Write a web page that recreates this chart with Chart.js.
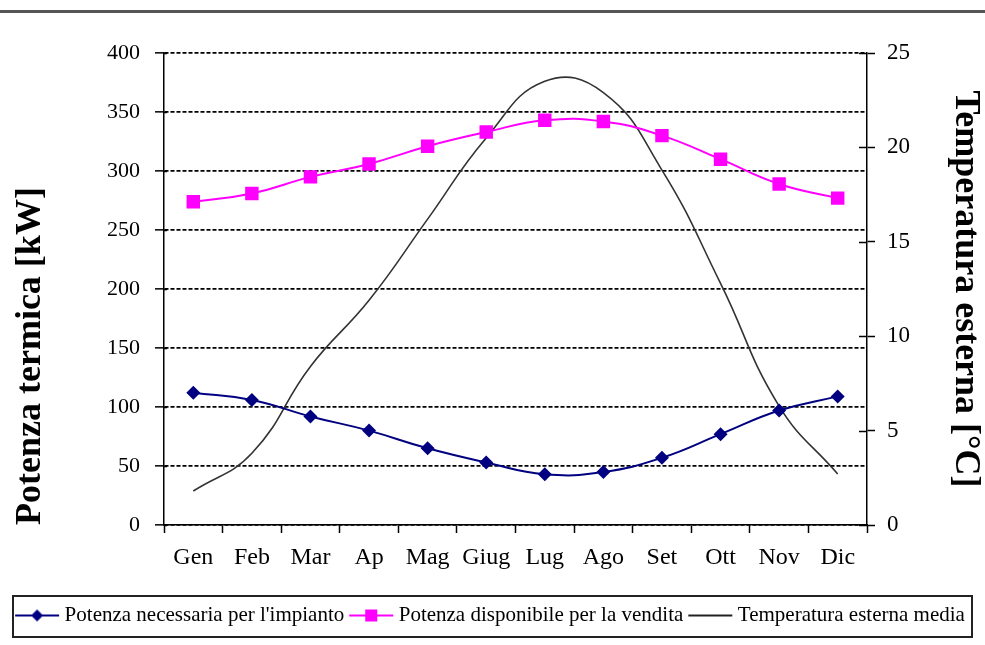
<!DOCTYPE html>
<html>
<head>
<meta charset="utf-8">
<script src="https://cdn.jsdelivr.net/npm/chart.js@4/dist/chart.umd.min.js"></script>
<style>
  html, body { margin: 0; padding: 0; background: #fff; }
  #wrap { position: relative; width: 985px; height: 645px; }
</style>
</head>
<body>
<div id="wrap"><canvas id="chart" width="985" height="645"></canvas></div>
<script>
// Monthly thermal power and mean outdoor temperature
const months = ['Gen', 'Feb', 'Mar', 'Ap', 'Mag', 'Giug', 'Lug', 'Ago', 'Set', 'Ott', 'Nov', 'Dic'];
const potenzaNecessaria = [112, 106, 92, 80, 65, 53, 43, 45, 57, 77, 97, 109];      // kW
const potenzaDisponibile = [274, 281, 295, 306, 321, 333, 343, 342, 330, 310, 289, 277]; // kW
const temperaturaMedia = [1.8, 3.8, 8.4, 11.9, 16.2, 20.5, 23.5, 22.9, 18.8, 12.8, 6.3, 2.7]; // °C

const leftTicks = { min: 0, max: 400, step: 50 };
const rightTicks = { min: 0, max: 25, step: 5 };

const serif = "'Liberation Serif', 'Times New Roman', serif";
const NAVY = '#000080';
const MAGENTA = '#ff00ff';
const DARK = '#333333';

// Small legend glyphs: a line segment with the series marker in the middle
function legendGlyph(color, marker) {
  const c = document.createElement('canvas');
  c.width = 46; c.height = 16;
  const g = c.getContext('2d');
  g.strokeStyle = color;
  g.lineWidth = 2;
  g.beginPath(); g.moveTo(1, 8); g.lineTo(45, 8); g.stroke();
  g.fillStyle = color;
  if (marker === 'diamond') {
    g.beginPath(); g.moveTo(23, 2); g.lineTo(29, 8); g.lineTo(23, 14); g.lineTo(17, 8); g.closePath(); g.fill();
  } else if (marker === 'square') {
    g.fillRect(17, 2, 12, 12);
  }
  return c;
}

const glyphs = [legendGlyph(NAVY, 'diamond'), legendGlyph(MAGENTA, 'square'), legendGlyph('#222', 'none')];

// Frame lines: top rule of the page and the box around the legend; inner halves of axis ticks
const decorations = {
  id: 'decorations',
  beforeDraw(chart) {
    const ctx = chart.ctx;
    ctx.save();
    ctx.fillStyle = '#555';
    ctx.fillRect(0, 10, chart.width, 3);
    ctx.restore();
  },
  afterDraw(chart) {
    const ctx = chart.ctx;
    const lg = chart.legend;
    ctx.save();
    ctx.strokeStyle = '#222';
    ctx.lineWidth = 2;
    ctx.strokeRect(13, lg.top + 1, chart.width - 26, lg.bottom - lg.top);
    // ticks crossing the axis lines into the plot
    const y1 = chart.scales.y1;
    const area = chart.chartArea;
    ctx.strokeStyle = '#000';
    ctx.lineWidth = 1.5;
    ctx.beginPath();
    y1.ticks.forEach(t => {
      const py = Math.round(y1.getPixelForValue(t.value)) + 0.5;
      ctx.moveTo(area.right - 8, py);
      ctx.lineTo(area.right, py);
    });
    const y = chart.scales.y;
    y.ticks.forEach(t => {
      const py = Math.round(y.getPixelForValue(t.value)) + 0.5;
      ctx.moveTo(area.left, py);
      ctx.lineTo(area.left + 3, py);
    });
    ctx.stroke();
    ctx.restore();
  }
};

new Chart(document.getElementById('chart'), {
  type: 'line',
  data: {
    labels: months,
    datasets: [
      {
        label: "Potenza necessaria per l'impianto",
        data: potenzaNecessaria,
        yAxisID: 'y',
        borderColor: NAVY,
        backgroundColor: NAVY,
        borderWidth: 2,
        pointStyle: 'rectRot',
        pointRadius: 7,
        pointBorderWidth: 0,
        tension: 0.45
      },
      {
        label: 'Potenza disponibile per la vendita',
        data: potenzaDisponibile,
        yAxisID: 'y',
        borderColor: MAGENTA,
        backgroundColor: MAGENTA,
        borderWidth: 2,
        pointStyle: 'rect',
        pointRadius: 9.5,
        pointBorderWidth: 0,
        tension: 0.45
      },
      {
        label: 'Temperatura esterna media',
        data: temperaturaMedia,
        yAxisID: 'y1',
        borderColor: DARK,
        backgroundColor: DARK,
        borderWidth: 1.6,
        pointRadius: 0,
        tension: 0.45
      }
    ]
  },
  options: {
    responsive: false,
    animation: false,
    devicePixelRatio: 1,
    layout: { padding: { top: 53, left: 0, right: 0, bottom: 9 } },
    plugins: {
      tooltip: { enabled: false },
      legend: {
        position: 'bottom',
        labels: {
          usePointStyle: true,
          pointStyleWidth: 34,
          color: '#000',
          font: { family: serif, size: 21 },
          padding: 10,
          generateLabels(chart) {
            return chart.data.datasets.map((ds, i) => ({
              text: ds.label,
              pointStyle: glyphs[i],
              fillStyle: ds.borderColor,
              strokeStyle: ds.borderColor,
              lineWidth: 0,
              fontColor: '#000',
              datasetIndex: i,
              hidden: false
            }));
          }
        }
      }
    },
    scales: {
      x: {
        type: 'category',
        offset: true,
        afterFit(s) { s.height = 70; },
        grid: {
          offset: true,
          drawOnChartArea: false,
          drawTicks: true,
          tickLength: 8,
          tickColor: '#000',
          tickWidth: 1.5
        },
        border: { color: '#000', width: 1.5 },
        ticks: {
          color: '#000',
          padding: 10,
          maxRotation: 0,
          font: { family: serif, size: 24 }
        }
      },
      y: {
        position: 'left',
        min: leftTicks.min,
        max: leftTicks.max,
        afterFit(s) { s.width = 164; },
        ticks: {
          stepSize: leftTicks.step,
          color: '#000',
          padding: 15,
          font: { family: serif, size: 22 }
        },
        grid: {
          color: '#000',
          lineWidth: 1.7,
          tickBorderDash: [],
          tickLength: 9,
          tickColor: '#000',
          tickWidth: 1.5
        },
        border: { color: '#000', width: 1.5, dash: [4, 2] },
        title: {
          display: true,
          text: 'Potenza termica [kW]',
          align: 'start',
          color: '#000',
          font: { family: serif, size: 36, weight: 'bold', lineHeight: 1 },
          padding: { top: 13, bottom: 0 }
        }
      },
      y1: {
        position: 'right',
        min: rightTicks.min,
        max: rightTicks.max,
        afterFit(s) { s.width = 118; },
        ticks: {
          stepSize: rightTicks.step,
          color: '#000',
          padding: 12,
          font: { family: serif, size: 23 }
        },
        grid: {
          drawOnChartArea: false,
          tickLength: 8,
          tickColor: '#000',
          tickWidth: 1.5
        },
        border: { color: '#000', width: 1.5 },
        title: {
          display: true,
          text: 'Temperatura esterna [°C]',
          color: '#000',
          font: { family: serif, size: 36, weight: 'bold', lineHeight: 1 },
          padding: { top: 2, bottom: 0 }
        }
      }
    }
  },
  plugins: [decorations]
});
</script>
</body>
</html>
